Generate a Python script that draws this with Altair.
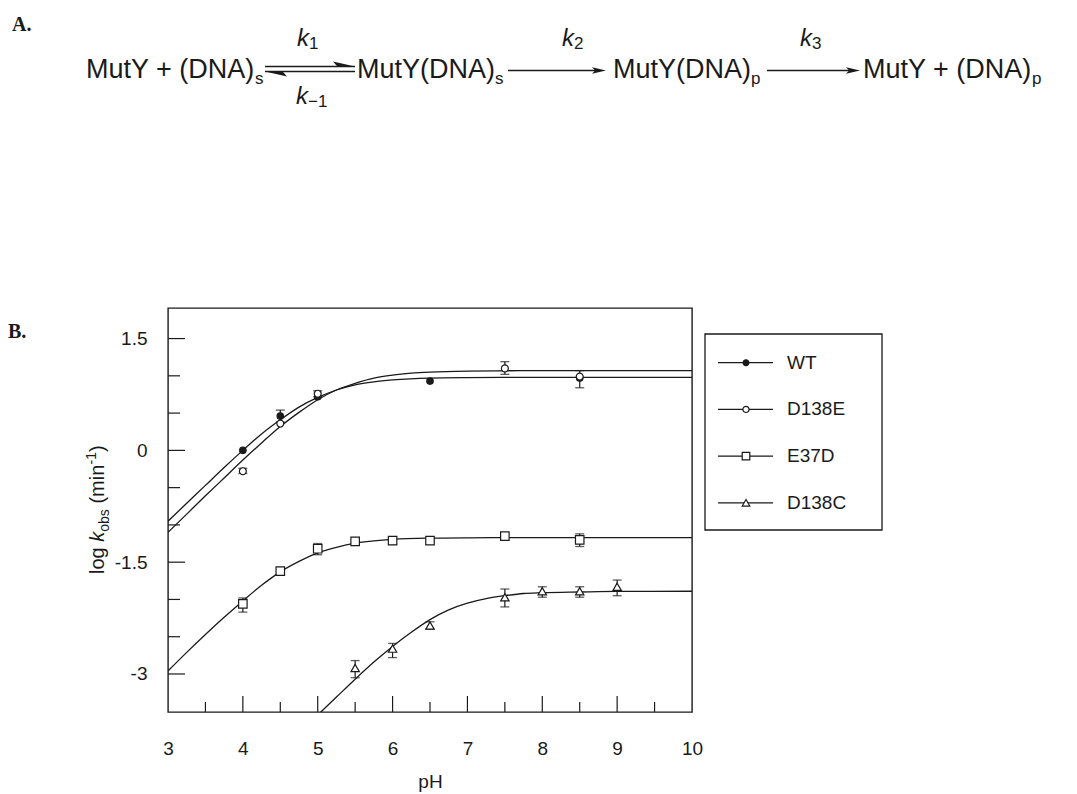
import altair as alt
import pandas as pd

# ---------------- data ----------------
series_names = ["WT", "D138E", "E37D", "D138C"]

# measured points (pH, log kobs)
wt_ph = [4.0, 4.5, 5.0, 6.5, 8.5]
wt_logk = [0.0, 0.46, 0.72, 0.93, 0.97]
d138e_ph = [4.0, 4.5, 5.0, 7.5, 8.5]
d138e_logk = [-0.28, 0.36, 0.76, 1.10, 0.99]
e37d_ph = [4.0, 4.5, 5.0, 5.5, 6.0, 6.5, 7.5, 8.5]
e37d_logk = [-2.06, -1.62, -1.32, -1.22, -1.21, -1.21, -1.15, -1.20]
d138c_ph = [5.5, 6.0, 6.5, 7.5, 8.0, 8.5, 9.0]
d138c_logk = [-2.92, -2.66, -2.35, -1.97, -1.89, -1.89, -1.83]

# visible error bars (pH, low, high)
wt_err_ph = [4.5]
wt_err_lo = [0.38]
wt_err_hi = [0.54]
d138e_err_ph = [4.0, 5.0, 7.5, 8.5]
d138e_err_lo = [-0.31, 0.72, 1.02, 0.84]
d138e_err_hi = [-0.24, 0.80, 1.19, 1.07]
e37d_err_ph = [4.0, 5.0, 6.0, 8.5]
e37d_err_lo = [-2.17, -1.40, -1.26, -1.29]
e37d_err_hi = [-1.98, -1.25, -1.16, -1.12]
d138c_err_ph = [5.5, 6.0, 6.5, 7.5, 8.0, 8.5, 9.0]
d138c_err_lo = [-3.05, -2.78, -2.40, -2.10, -1.97, -1.97, -1.95]
d138c_err_hi = [-2.82, -2.59, -2.30, -1.86, -1.83, -1.83, -1.74]

# fitted curves
wt_curve_ph = [3.0, 3.25, 3.5, 3.75, 4.0, 4.25, 4.5, 4.75, 5.0, 5.25, 5.5, 5.75, 6.0, 6.5, 7.0, 8.0, 10.0]
wt_curve = [-0.95, -0.71, -0.47, -0.23, 0.0, 0.22, 0.41, 0.58, 0.71, 0.81, 0.88, 0.92, 0.945, 0.97, 0.976, 0.98, 0.98]
d138e_curve_ph = [3.0, 3.25, 3.5, 3.75, 4.0, 4.25, 4.5, 4.75, 5.0, 5.25, 5.5, 5.75, 6.0, 6.25, 6.5, 7.0, 7.5, 8.0, 10.0]
d138e_curve = [-1.10, -0.855, -0.61, -0.37, -0.13, 0.10, 0.32, 0.51, 0.68, 0.81, 0.90, 0.97, 1.01, 1.035, 1.05, 1.064, 1.068, 1.07, 1.07]
e37d_curve_ph = [3.0, 3.25, 3.5, 3.75, 4.0, 4.25, 4.5, 4.75, 5.0, 5.25, 5.5, 5.75, 6.0, 6.5, 7.0, 8.0, 10.0]
e37d_curve = [-2.96, -2.71, -2.47, -2.24, -2.02, -1.81, -1.63, -1.49, -1.375, -1.30, -1.245, -1.215, -1.195, -1.178, -1.173, -1.17, -1.17]
d138c_curve_ph = [5.0, 5.25, 5.5, 5.75, 6.0, 6.25, 6.5, 6.75, 7.0, 7.25, 7.5, 7.75, 8.0, 8.5, 9.0, 10.0]
d138c_curve = [-3.55, -3.31, -3.07, -2.84, -2.63, -2.44, -2.27, -2.14, -2.05, -1.99, -1.95, -1.92, -1.91, -1.90, -1.892, -1.89]

x_tick_labels = [3, 4, 5, 6, 7, 8, 9, 10]
x_major_ticks = [4, 5, 6, 7, 8, 9]
x_minor_ticks = [3.5, 4.5, 5.5, 6.5, 7.5, 8.5, 9.5]
y_tick_labels = [1.5, 0, -1.5, -3]
y_minor_ticks = [1.0, 0.5, -0.5, -1.0, -2.0, -2.5]

# ---------------- styling / layout ----------------
SANS = "Liberation Sans"
SERIF = "Liberation Serif"
INK = "#1a1a1a"
W, H = 524, 404
PAD_L, PAD_T = 160, 300
OX, OY = PAD_L + 8, PAD_T + 8  # page position of the plot origin


def px(v):
    return v - OX


def py(v):
    return v - OY


def frame(ph, vals, name, col="logk"):
    return pd.DataFrame({"ph": ph, col: vals, "series": name})


points = {
    "WT": frame(wt_ph, wt_logk, "WT"),
    "D138E": frame(d138e_ph, d138e_logk, "D138E"),
    "E37D": frame(e37d_ph, e37d_logk, "E37D"),
    "D138C": frame(d138c_ph, d138c_logk, "D138C"),
}
curves = pd.concat([
    frame(wt_curve_ph, wt_curve, "WT"),
    frame(d138e_curve_ph, d138e_curve, "D138E"),
    frame(e37d_curve_ph, e37d_curve, "E37D"),
    frame(d138c_curve_ph, d138c_curve, "D138C"),
])
errs = pd.concat([
    pd.DataFrame({"ph": wt_err_ph, "lo": wt_err_lo, "hi": wt_err_hi}),
    pd.DataFrame({"ph": d138e_err_ph, "lo": d138e_err_lo, "hi": d138e_err_hi}),
    pd.DataFrame({"ph": e37d_err_ph, "lo": e37d_err_lo, "hi": e37d_err_hi}),
    pd.DataFrame({"ph": d138c_err_ph, "lo": d138c_err_lo, "hi": d138c_err_hi}),
])

xscale = alt.Scale(domain=[3, 10], nice=False, zero=False)
yscale = alt.Scale(domain=[-3.51, 1.91], nice=False, zero=False)
x_axis = alt.Axis(values=x_tick_labels, title="pH", format="d", labelFont=SANS, titleFont=SANS,
                  labelFontSize=19, titleFontSize=19, titleFontWeight="normal",
                  labelColor=INK, titleColor=INK, domain=False, ticks=False, tickSize=0,
                  grid=False, labelPadding=27, titlePadding=14, labelFlush=False)
y_axis = alt.Axis(values=y_tick_labels, title=None, labelExpr="toString(datum.value)",
                  labelFont=SANS, labelFontSize=19, labelColor=INK, domain=False,
                  ticks=False, tickSize=0, grid=False, labelPadding=21)


def X(field="ph"):
    return alt.X(f"{field}:Q", scale=xscale, axis=x_axis, title="pH")


def Y(field="logk"):
    return alt.Y(f"{field}:Q", scale=yscale, axis=y_axis, title=None)


layers = []

# inward ticks
layers.append(alt.Chart(pd.DataFrame({"ph": x_major_ticks})).mark_rule(color=INK, strokeWidth=1.2)
              .encode(x=X(), y=alt.value(H), y2=alt.value(H - 16)))
layers.append(alt.Chart(pd.DataFrame({"ph": x_minor_ticks})).mark_rule(color=INK, strokeWidth=1.2)
              .encode(x=X(), y=alt.value(H), y2=alt.value(H - 10)))
layers.append(alt.Chart(pd.DataFrame({"logk": y_tick_labels})).mark_rule(color=INK, strokeWidth=1.2)
              .encode(y=Y(), x=alt.value(0), x2=alt.value(17)))
layers.append(alt.Chart(pd.DataFrame({"logk": y_minor_ticks})).mark_rule(color=INK, strokeWidth=1.2)
              .encode(y=Y(), x=alt.value(0), x2=alt.value(12)))

# error bars
layers.append(alt.Chart(errs).mark_rule(color=INK, strokeWidth=1.2)
              .encode(x=X(), y=Y("lo"), y2="hi:Q"))
for f in ("lo", "hi"):
    layers.append(alt.Chart(errs).mark_tick(color=INK, orient="horizontal", size=9, thickness=1.3)
                  .encode(x=X(), y=Y(f)))

# fitted curves
layers.append(alt.Chart(curves).mark_line(color=INK, strokeWidth=1.3, interpolate="monotone", clip=True)
              .encode(x=X(), y=Y(), detail="series:N"))

marker_style = {
    "WT": dict(shape="circle", size=42, fill=INK),
    "D138E": dict(shape="circle", size=48, fill="white"),
    "E37D": dict(shape="square", size=72, fill="white"),
    "D138C": dict(shape="triangle-up", size=70, fill="white"),
}
for name in series_names:
    st = marker_style[name]
    layers.append(alt.Chart(points[name]).mark_point(filled=True, opacity=1, stroke=INK, strokeWidth=1.2, **st)
                  .encode(x=X(), y=Y()))

ONE = pd.DataFrame({"_": [0]})


def text(s, x, y, size, font=SANS, align="left", baseline="alphabetic", **kw):
    return alt.Chart(ONE).mark_text(text=s, font=font, fontSize=size, color=INK, align=align,
                                    baseline=baseline, **kw).encode(x=alt.value(x), y=alt.value(y))


def rule(x1, x2, y1, y2, w=1.3):
    return alt.Chart(ONE).mark_rule(color=INK, strokeWidth=w).encode(
        x=alt.value(x1), x2=alt.value(x2), y=alt.value(y1), y2=alt.value(y2))


def head(x, y, path, size):
    return alt.Chart(ONE).mark_point(shape=path, size=size, filled=True, fill=INK, opacity=1,
                                     strokeWidth=0).encode(x=alt.value(x), y=alt.value(y))


# legend
layers.append(alt.Chart(ONE).mark_rect(fill="white", stroke=INK, strokeWidth=1.3).encode(
    x=alt.value(px(705)), x2=alt.value(px(882)), y=alt.value(py(334)), y2=alt.value(py(530))))
for i, name in enumerate(series_names):
    ry = py(362.7 + i * 46.7)
    layers.append(rule(px(718), px(773), ry, ry))
    st = dict(marker_style[name])
    st["size"] = st["size"] * 0.8
    layers.append(alt.Chart(ONE).mark_point(filled=True, opacity=1, stroke=INK, strokeWidth=1.2, **st)
                  .encode(x=alt.value(px(746)), y=alt.value(ry)))
    layers.append(text(name, px(787), ry, 19, baseline="middle"))

# y-axis title: log k_obs (min^-1), rotated
tx, ty = px(104), py(574)
ytitle_parts = [("log", 20, "normal", 0, 0), ("k", 20, "italic", 32.2, 0), ("obs", 14, "normal", 42.2, 5),
                ("(min", 20, "normal", 70.4, 0), ("-1", 14, "normal", 109.6, -8), (")", 20, "normal", 122.0, 0)]
for s, fs, style, dx, dy in ytitle_parts:
    layers.append(text(s, tx, ty, fs, fontStyle=style, angle=270, dx=dx, dy=dy))

# panel labels
layers.append(text("A.", px(12), py(31), 20, font=SERIF, fontWeight="bold"))
layers.append(text("B.", px(8), py(338), 20, font=SERIF, fontWeight="bold"))

# reaction scheme
BL, SB, FS, SFS = py(78), py(84), 27, 17
layers += [
    text("MutY + (DNA)", px(86), BL, FS), text("s", px(255), SB, SFS),
    text("MutY(DNA)", px(357), BL, FS), text("s", px(495), SB, SFS),
    text("MutY(DNA)", px(613), BL, FS), text("p", px(751), SB, SFS),
    text("MutY + (DNA)", px(863), BL, FS), text("p", px(1032), SB, SFS),
]
# equilibrium half-arrows
layers.append(rule(px(265), px(355), py(66.5), py(66.5)))
layers.append(rule(px(265), px(355), py(71.5), py(71.5)))
layers.append(head(px(344), py(66.5), "M 1 0 L -1 -0.45 L -0.6 0 Z", 484))
layers.append(head(px(276), py(71.5), "M -1 0 L 1 0.45 L 0.6 0 Z", 484))
# forward arrows
ARROW = "M 1 0 L -1 -0.45 L -0.55 0 L -1 0.45 Z"
layers.append(rule(px(508), px(599), py(70.5), py(70.5)))
layers.append(head(px(599), py(70.5), ARROW, 196))
layers.append(rule(px(767), px(853), py(70.5), py(70.5)))
layers.append(head(px(853), py(70.5), ARROW, 196))
# rate constants
for sub, kx, ky in [("1", 297, 46), ("\u22121", 296, 104), ("2", 562, 46), ("3", 800, 46)]:
    layers.append(text("k", px(kx), py(ky), 24, fontStyle="italic"))
    layers.append(text(sub, px(kx + 12), py(ky + 3), 17))

chart = alt.layer(*layers).properties(
    width=W, height=H,
    padding={"left": PAD_L, "top": PAD_T, "right": 377, "bottom": 80},
    autosize=alt.AutoSizeParams(type="none"),
    background="white",
).configure_view(stroke=INK, strokeWidth=1.4)

chart.save("out.html", embed_options={"renderer": "svg", "actions": False})
